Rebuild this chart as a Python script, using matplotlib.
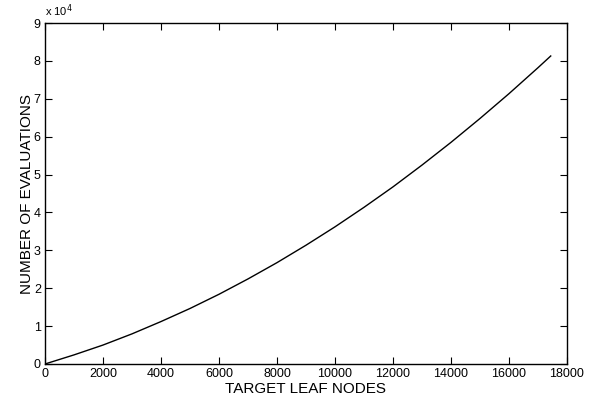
import numpy as np
import matplotlib.pyplot as plt
from matplotlib.ticker import FuncFormatter

plt.rcParams['font.family'] = ['Liberation Sans', 'DejaVu Sans']

# values
leaf_nodes = [0, 1000, 2000, 3000, 4000, 5000, 6000, 7000, 8000, 9000,
              10000, 11000, 12000, 13000, 14000, 15000, 16000, 17000, 17440]
evaluations = [0, 2400, 5000, 7950, 11200, 14650, 18400, 22450, 26750, 31350,
               36200, 41350, 46750, 52500, 58500, 64800, 71350, 78200, 81300]

fig = plt.figure(figsize=(5.89, 4.01), dpi=100)
ax = fig.add_axes([0.0764, 0.0923, 0.8862, 0.8503])

ax.plot(leaf_nodes, evaluations, color='black', linewidth=1.0)

ax.set_xlim(0, 18000)
ax.set_ylim(0, 90000)
ax.set_xticks(np.arange(0, 18001, 2000))
ax.set_yticks(np.arange(0, 90001, 10000))
ax.yaxis.set_major_formatter(FuncFormatter(lambda v, p: "%d" % round(v / 1e4)))
ax.tick_params(direction='in', length=5, width=0.8, top=True, right=True,
               labelsize=9, pad=3)
for s in ax.spines.values():
    s.set_linewidth(1.0)

ax.text(0.0, 1.012, r'x 10$^4$', transform=ax.transAxes, fontsize=8,
        ha='left', va='bottom')

ax.set_xlabel('TARGET LEAF NODES', fontsize=11, labelpad=1)
ax.set_ylabel('NUMBER OF EVALUATIONS', fontsize=11, labelpad=0)

fig.savefig('out.png', dpi=100)
